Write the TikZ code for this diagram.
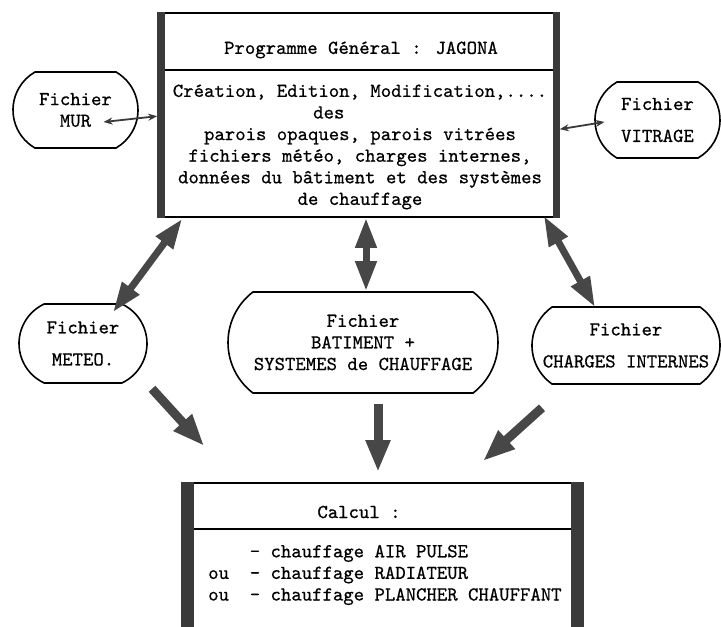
\documentclass[tikz,border=0pt]{standalone}
\usepackage{fontspec}
\newfontfamily\tw[FakeBold=0.6]{lmmono10-regular.otf}
\usetikzlibrary{arrows.meta,shapes.misc,calc}
\definecolor{bar}{HTML}{3A3A3A}
\definecolor{arr}{HTML}{474747}
\begin{document}
\begin{tikzpicture}[x=1pt,y=-1pt,
  every node/.style={font=\tw\fontsize{19.8}{21.6}\selectfont, inner sep=0pt},
  file/.style={draw, line width=1.6pt, rounded rectangle, rounded rectangle arc length=#1, align=center},
  box/.style={draw, line width=1.6pt},
  dbl/.style={draw=arr, line width=7pt, {Triangle[length=30pt,width=20pt]}-{Triangle[length=30pt,width=20pt]}},
  sgl/.style={draw=arr, line width=9pt, -{Triangle[length=32pt,width=23pt]}},
  thin/.style={draw=bar, line width=1.8pt, {Stealth[length=9pt,width=7pt]}-{Stealth[length=9pt,width=7pt]}}]
\useasboundingbox (0,0) rectangle (721,627);
\clip (0,0) rectangle (721,627);
\fill[white] (0,0) rectangle (721,627);

% top box
\node[box, minimum width=401pt, minimum height=204pt] (top) at (358.5,115) {};
\draw[line width=1.6pt] ($(top.north west)+(0,58)$) -- ($(top.north east)+(0,58)$);
\fill[bar] (top.north west) rectangle ($(top.south west)+(8,0)$);
\fill[bar] ($(top.north east)+(-7,0)$) rectangle (top.south east);
\node (topT) at (361,50) {Programme Général : JAGONA};
\node[align=center] (topB) at (360,147) {Création, Edition, Modification,....\\des\phantom{xxxxxx}\\parois opaques, parois vitrées\\fichiers météo, charges internes,\\données du bâtiment et des systèmes\\de chauffage};

% bottom box
\node[box, minimum width=401pt, minimum height=180pt, anchor=north] (calc) at (382.5,482) {};
\draw[line width=1.6pt] ($(calc.north west)+(0,47)$) -- ($(calc.north east)+(0,47)$);
\fill[bar] (calc.north west) rectangle ($(calc.south west)+(13,0)$);
\fill[bar] ($(calc.north east)+(-13,0)$) rectangle (calc.south east);
\node (calcT) at (359,512) {Calcul :};
\node[align=left, anchor=west] (calcB) at (208,575) {\ \ \ \ - chauffage AIR PULSE\\ou\ \ - chauffage RADIATEUR\\ou\ \ - chauffage PLANCHER CHAUFFANT};

% file nodes
\node[file=120, minimum width=125pt, minimum height=76pt] (mur) at (75.5,110) {Fichier\\MUR};
\node[file=120, minimum width=125pt, minimum height=76pt] (vitr) at (657.5,120) {Fichier\\[10.4pt]VITRAGE};
\node[file=130, minimum width=128pt, minimum height=79pt] (meteo) at (83,343.5) {Fichier\\[10.4pt]METEO.};
\node[file=105, minimum width=270pt, minimum height=101pt] (center) at (363,342.5) {Fichier\\BATIMENT +\\SYSTEMES de CHAUFFAGE};
\node[file=110, minimum width=188pt, minimum height=77pt] (charges) at (626,345.5) {Fichier\\[10.4pt]CHARGES INTERNES};

% connectors
\draw[thin] ($(mur.center)+(28,12)$) -- ($(top.north west)+(0,104)$);
\draw[thin] ($(top.north east)+(0,117)$) -- ($(vitr.center)+(-53,2)$);
\draw[dbl] ($(top.south west)+(25,1)$) -- ($(meteo.north)+(30,9)$);
\draw[dbl] ($(top.south)+(7.5,0)$) -- ($(center.north)+(3,0)$);
\draw[dbl] ($(top.south east)+(-16,-2)$) -- ($(charges.north)+(-31,1)$);
\draw[sgl] ($(meteo.south)+(69,5)$) -- ($(calc.north west)+(23,-36)$);
\draw[sgl] ($(center.south)+(15,10)$) -- ($(calc.north)+(-4.5,-10)$);
\draw[sgl] ($(charges.south)+(-84,23)$) -- ($(calc.north)+(100.5,-21)$);
\end{tikzpicture}
\end{document}
